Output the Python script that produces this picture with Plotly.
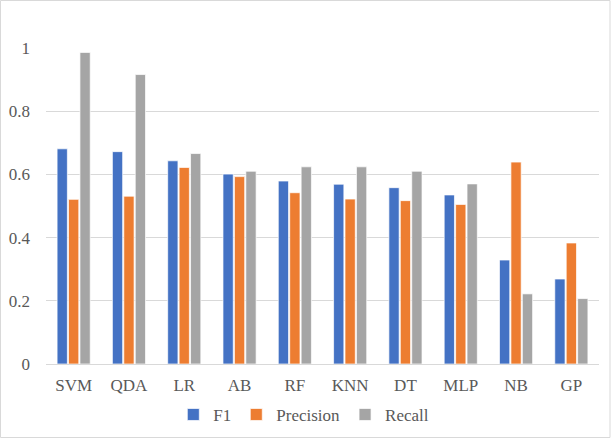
import plotly.graph_objects as go

categories = ["SVM", "QDA", "LR", "AB", "RF", "KNN", "DT", "MLP", "NB", "GP"]
f1 = [0.681, 0.672, 0.643, 0.601, 0.579, 0.569, 0.558, 0.535, 0.329, 0.269]
precision = [0.521, 0.531, 0.622, 0.593, 0.542, 0.522, 0.517, 0.505, 0.639, 0.383]
recall = [0.986, 0.916, 0.666, 0.610, 0.624, 0.624, 0.610, 0.570, 0.222, 0.207]
y_ticks = [0, 0.2, 0.4, 0.6, 0.8, 1]
y_tick_labels = ["0", "0.2", "0.4", "0.6", "0.8", "1"]

series = [("F1", f1, "#4472C4"), ("Precision", precision, "#ED7D31"), ("Recall", recall, "#A5A5A5")]

FONT = "Liberation Serif, Times New Roman, serif"

fig = go.Figure()
for name, vals, color in series:
    fig.add_trace(go.Bar(
        x=categories, y=vals, name=name,
        marker=dict(color=color, line=dict(color="rgba(255,255,255,0.7)", width=1)),
    ))

W, H = 615, 440
ml, mr, mt, mb = 46, 16, 48, 76
pw = W - ml - mr
ph = H - mt - mb

fig.update_layout(
    width=W, height=H,
    margin=dict(l=ml, r=mr, t=mt, b=mb, autoexpand=False),
    paper_bgcolor="white", plot_bgcolor="white",
    barmode="group", bargap=0.38, bargroupgap=0.1,
    font=dict(family=FONT, size=17, color="#595959"),
    showlegend=True,
    legend=dict(orientation="h", xref="container", yref="container",
                x=0.494, xanchor="center", y=0.057, yanchor="middle",
                font=dict(family=FONT, size=17, color="#595959"), itemwidth=30,
                traceorder="normal", tracegroupgap=0),
    xaxis=dict(showgrid=False, showline=False, ticks="", ticklabelstandoff=9,
               tickfont=dict(family=FONT, size=17)),
    yaxis=dict(range=[0, 1.0], tickvals=y_ticks, ticktext=y_tick_labels,
               showgrid=True, gridcolor="#D9D9D9", gridwidth=1,
               zeroline=True, zerolinecolor="#D9D9D9", zerolinewidth=1,
               showline=False, ticks="", ticklabelstandoff=15,
               tickfont=dict(family=FONT, size=17)),
    shapes=[dict(type="rect", xref="paper", yref="paper",
                 x0=(-ml + 0.5) / pw, x1=1 + (mr - 5) / pw,
                 y0=-(mb - 2.5) / ph, y1=1 + (mt - 0.5) / ph,
                 line=dict(color="#D9D9D9", width=1), fillcolor="rgba(0,0,0,0)", layer="below")],
)

fig.write_html("out.html", config={"displayModeBar": False},
               post_script="document.body.style.margin='0';")
